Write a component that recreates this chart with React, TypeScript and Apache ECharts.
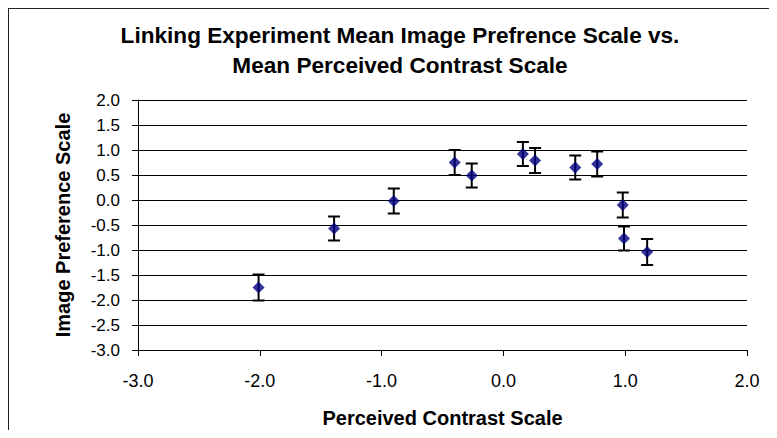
import React, { useEffect, useRef } from "react";
import * as echarts from "echarts";

const xValues = [-2.01, -1.39, -0.9, -0.4, -0.26, 0.16, 0.26, 0.59, 0.77, 0.98, 0.99, 1.18];
const yValues = [-1.75, -0.57, -0.02, 0.75, 0.49, 0.92, 0.79, 0.65, 0.72, -0.1, -0.77, -1.04];
const yErrors = [0.26, 0.24, 0.25, 0.25, 0.24, 0.24, 0.25, 0.24, 0.25, 0.25, 0.24, 0.26];

const titleLines = [
  "Linking Experiment Mean Image Prefrence Scale vs.",
  "Mean Perceived Contrast Scale",
];
const xAxisTitle = "Perceived Contrast Scale";
const yAxisTitle = "Image Preference Scale";
const xRange = { min: -3, max: 2, interval: 1 };
const yRange = { min: -3, max: 2, interval: 0.5 };

const FONT = '"Liberation Sans", Arial, Helvetica, sans-serif';

export default function App() {
  const ref = useRef<HTMLDivElement>(null);
  useEffect(() => {
    if (!ref.current) return;
    const chart = echarts.init(ref.current, null, { renderer: "svg" });
    const W = 769;
    const H = 430;
    chart.setOption({
      animation: false,
      backgroundColor: "#fff",
      grid: { left: 130, top: 92, right: 30, bottom: 88 },
      graphic: [
        { type: "line", shape: { x1: 0, y1: 0.5, x2: W, y2: 0.5 }, style: { stroke: "#222", lineWidth: 1 } },
        { type: "line", shape: { x1: 0.5, y1: 0, x2: 0.5, y2: H }, style: { stroke: "#222", lineWidth: 1 } },
        {
          type: "text",
          x: 392,
          y: 27,
          style: {
            text: titleLines[0],
            fontFamily: FONT,
            fontWeight: "bold",
            fontSize: 22.6,
            fill: "#000",
            align: "center",
            verticalAlign: "middle",
          },
        },
        {
          type: "text",
          x: 392,
          y: 57,
          style: {
            text: titleLines[1],
            fontFamily: FONT,
            fontWeight: "bold",
            fontSize: 22.6,
            fill: "#000",
            align: "center",
            verticalAlign: "middle",
          },
        },
      ],
      xAxis: {
        type: "value",
        min: xRange.min,
        max: xRange.max,
        interval: xRange.interval,
        name: xAxisTitle,
        nameLocation: "middle",
        nameGap: 58,
        nameTextStyle: { fontFamily: FONT, fontWeight: "bold", fontSize: 20, color: "#000" },
        axisLine: { onZero: false, lineStyle: { color: "#000", width: 1 } },
        axisTick: { show: true, inside: false, length: 6, lineStyle: { color: "#000" } },
        axisLabel: {
          margin: 22,
          fontFamily: FONT,
          fontSize: 18,
          color: "#000",
          formatter: (v: number) => v.toFixed(1),
        },
        splitLine: { show: false },
      },
      yAxis: {
        type: "value",
        min: yRange.min,
        max: yRange.max,
        interval: yRange.interval,
        name: yAxisTitle,
        nameLocation: "middle",
        nameGap: 65,
        nameTextStyle: { fontFamily: FONT, fontWeight: "bold", fontSize: 20, color: "#000" },
        axisLine: { show: true, onZero: false, lineStyle: { color: "#000", width: 1 } },
        axisTick: { show: true, inside: false, length: 6, lineStyle: { color: "#000" } },
        axisLabel: {
          margin: 18,
          fontFamily: FONT,
          fontSize: 17,
          color: "#000",
          formatter: (v: number) => v.toFixed(1),
        },
        splitLine: { show: true, lineStyle: { color: "#000", width: 1 } },
      },
      series: [
        {
          type: "custom",
          z: 2,
          encode: { x: 0, y: 1 },
          data: xValues.map((x, i) => [x, yValues[i], yErrors[i]]),
          renderItem: (params: any, api: any) => {
            const x = api.value(0);
            const y = api.value(1);
            const e = api.value(2);
            const top = api.coord([x, y + e]);
            const bot = api.coord([x, y - e]);
            const hw = 6;
            const st = { stroke: "#000", lineWidth: 2 };
            return {
              type: "group",
              children: [
                { type: "line", shape: { x1: top[0], y1: top[1], x2: bot[0], y2: bot[1] }, style: st },
                { type: "line", shape: { x1: top[0] - hw, y1: top[1], x2: top[0] + hw, y2: top[1] }, style: st },
                { type: "line", shape: { x1: bot[0] - hw, y1: bot[1], x2: bot[0] + hw, y2: bot[1] }, style: st },
              ],
            };
          },
        },
        {
          type: "scatter",
          z: 3,
          symbol: "diamond",
          symbolSize: 12,
          itemStyle: { color: "#000080" },
          data: xValues.map((x, i) => [x, yValues[i]]),
        },
      ],
    });
    return () => chart.dispose();
  }, []);
  return <div ref={ref} style={{ width: 769, height: 430, marginBottom: -8 }} />;
}
